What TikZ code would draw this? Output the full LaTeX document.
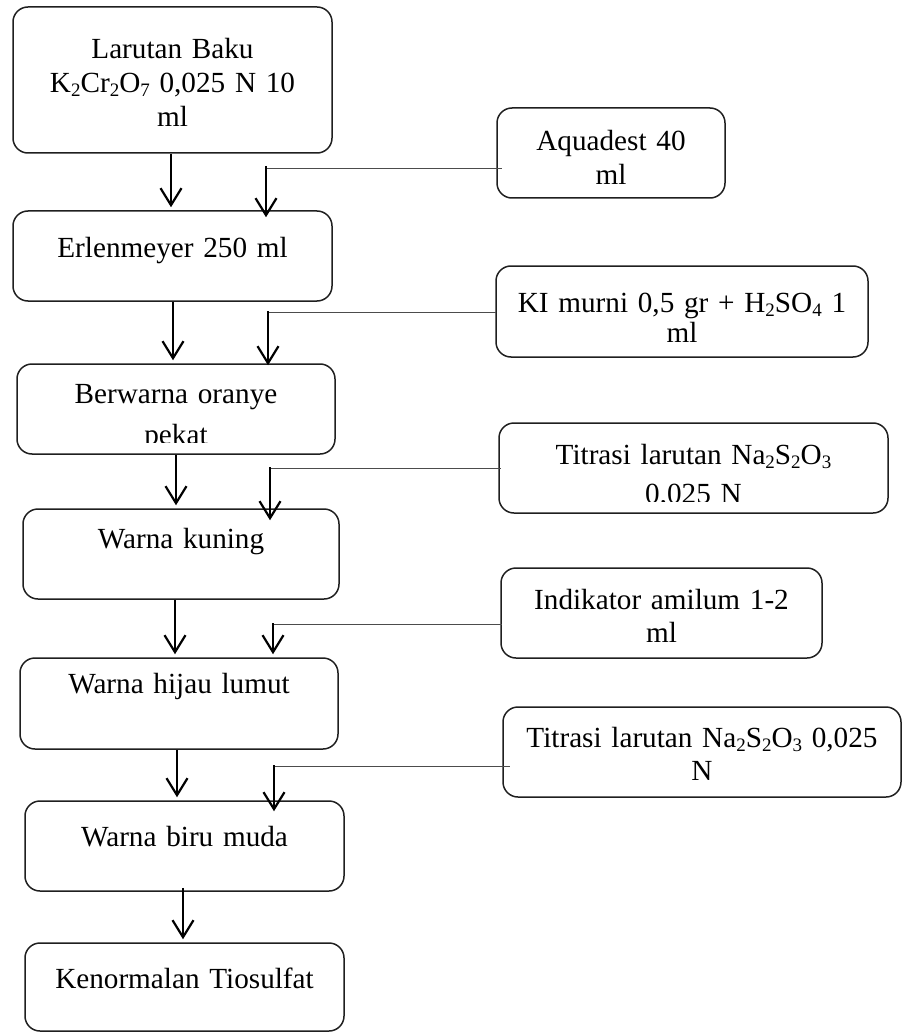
\documentclass[tikz,border=0pt]{standalone}
\usepackage{fontspec}
\setmainfont{Liberation Serif}
\usetikzlibrary{arrows.meta}

\tikzset{
  box/.style={rectangle, draw=black!88, line width=1.5pt, rounded corners=15pt, inner sep=0pt},
  txt/.style={align=center, inner sep=0pt, font=\fontsize{29.2}{33.6}\selectfont},
  arr/.style={line width=2.2pt, -{Straight Barb[length=17pt,width=21pt]}},
  feed/.style={line width=1pt, draw=black!70},
}

% chemical subscript: smaller and slightly lowered
\newcommand\lowidx[1]{\raisebox{-0.14em}{\fontsize{19}{19}\selectfont #1}}

% rounded box given by its corners; the text starts at a fixed baseline
% offset from the top edge and is clipped a little above the bottom edge
% #1 name, #2 x1, #3 y1, #4 x2, #5 y2, #6 first baseline offset, #7 text
\newcommand\procbox[7]{%
  \node[box, minimum width={#4-#2}, minimum height={#5-#3},
    path picture={
      \clip ([yshift=12pt]path picture bounding box.south west)
        rectangle (path picture bounding box.north east);
      \node[txt, text width={#4-#2-20}, anchor=base] (#1-t)
        at ([yshift=-#6pt]path picture bounding box.north) {#7};
    }] (#1) at ({(#2+#4)/2},{(#3+#5)/2}) {};%
}

\begin{document}
\begin{tikzpicture}[x=1pt, y=-1pt]
\useasboundingbox (0,0) rectangle (902,1032);

% main column
\procbox{b1}{13}{7}{332}{153}{52}{Larutan Baku\\K\lowidx{2}Cr\lowidx{2}O\lowidx{7} 0,025 N 10\\ml}
\procbox{b2}{13}{211}{332}{301}{46}{Erlenmeyer 250 ml}
\procbox{b3}{17}{364}{335}{454}{39}{Berwarna oranye\\[8pt]pekat}
\procbox{b4}{23}{509}{339}{599}{39}{Warna kuning}
\procbox{b5}{20}{658}{338}{749}{35}{Warna hijau lumut}
\procbox{b6}{25}{801}{344}{891}{45}{Warna biru muda}
\procbox{b7}{25}{943}{344}{1031}{45}{Kenormalan Tiosulfat}

% added reagents / steps
\procbox{aq}{497}{108}{725}{198}{43}{Aquadest 40\\ml}
\procbox{ki}{496}{266}{868}{357}{46}{KI murni 0,5 gr + H\lowidx{2}SO\lowidx{4} 1\\[-3pt]ml}
\procbox{t1}{499}{423}{888}{513}{41}{Titrasi larutan Na\lowidx{2}S\lowidx{2}O\lowidx{3}\\[6pt]0,025 N}
\procbox{ind}{501}{568}{822}{658}{41}{Indikator amilum 1-2\\ml}
\procbox{t2}{503}{707}{901}{797}{40}{Titrasi larutan Na\lowidx{2}S\lowidx{2}O\lowidx{3} 0,025\\N}

% columns of the main arrows
\coordinate (x1) at (171,0);
\coordinate (x2) at (173,0);
\coordinate (x3) at (176,0);
\coordinate (x4) at (175,0);
\coordinate (x5) at (177,0);
\coordinate (x6) at (183,0);

\draw[arr] (b1.south -| x1) -- ([yshift=3pt]b2.north -| x1);
\draw[arr] (b2.south -| x2) -- ([yshift=3pt]b3.north -| x2);
\draw[arr] (b3.south -| x3) -- ([yshift=3pt]b4.north -| x3);
\draw[arr] (b4.south -| x4) -- ([yshift=3pt]b5.north -| x4);
\draw[arr] (b5.south -| x5) -- ([yshift=3pt]b6.north -| x5);
\draw[arr] ([yshift=4pt]b6.south -| x6) -- ([yshift=3pt]b7.north -| x6);

% junctions where the side steps join in
\coordinate (j1) at (266,169);
\coordinate (j2) at (268,312);
\coordinate (j3) at (270,468);
\coordinate (j4) at (273,624);
\coordinate (j5) at (274,766);

\draw[feed] (j1) -- ([xshift=6pt]aq.west |- j1);
\draw[feed] (j2) -- ([xshift=1pt]ki.west |- j2);
\draw[feed] (j3) -- ([xshift=3pt]t1.west |- j3);
\draw[feed] (j4) -- ([xshift=2pt]ind.west |- j4);
\draw[feed] (j5) -- ([xshift=8pt]t2.west |- j5);

\draw[arr] ([yshift=3pt]j1) -- ([yshift=-7pt]b2.north -| j1);
\draw[arr] ([yshift=1pt]j2) -- ([yshift=-2pt]b3.north -| j2);
\draw[arr] ([yshift=1pt]j3) -- ([yshift=-12pt]b4.north -| j3);
\draw[arr] ([yshift=1pt]j4) -- ([yshift=3pt]b5.north -| j4);
\draw[arr] ([yshift=1pt]j5) -- ([yshift=-11pt]b6.north -| j5);
\end{tikzpicture}
\end{document}
